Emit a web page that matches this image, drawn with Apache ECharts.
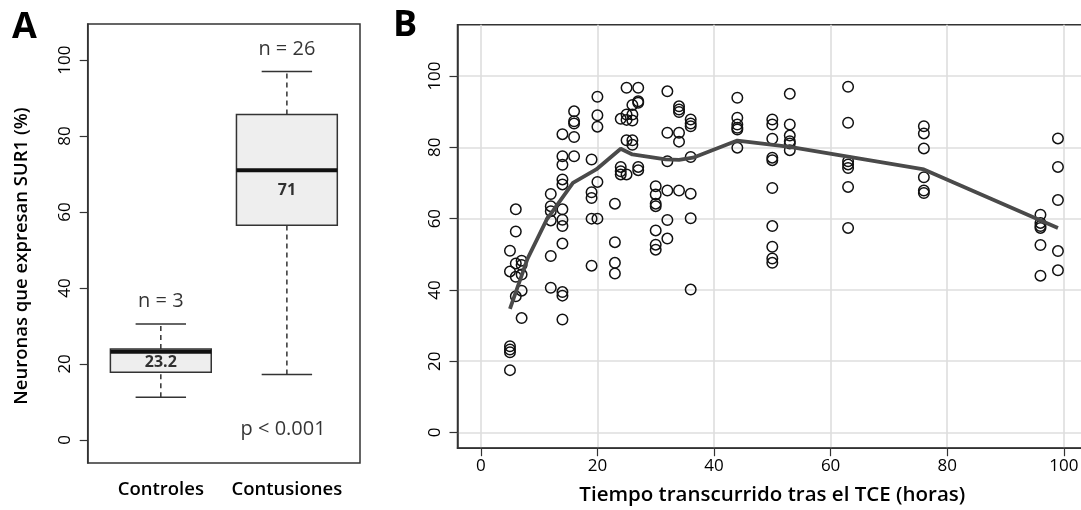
<!DOCTYPE html>
<html lang="es">
<head>
<meta charset="UTF-8" />
<title>SUR1</title>
<script src="https://cdn.jsdelivr.net/npm/echarts@6/dist/echarts.min.js"></script>
<style>
  html, body { margin: 0; padding: 0; background: #fff; }
  #main { width: 1081px; height: 510px; }
</style>
</head>
<body>
<div id="main"></div>
<script type="text/javascript">

// ---- panel A: boxplots ----
var groupNames = ['Controles', 'Contusiones'];
var groupPos = [1, 2];
var whiskerLow = [11.2, 17.2];
var q1 = [17.8, 56.5];
var median = [23.2, 71];
var q3 = [23.9, 85.7];
var whiskerHigh = [30.5, 97.0];
var medianText = ['23.2', '71'];
var medianTextY = [20.4, 65.6];
var nText = ['n = 3', 'n = 26'];
var nTextY = [36.4, 102.8];

// ---- panel B: scatter by hour ----
var hours = [5, 6, 7, 12, 14, 16, 19, 20, 23, 24, 25, 26, 27, 30, 32, 34, 36, 44, 50, 53, 63, 76, 96, 99];
var pctByHour = [
  [51, 45.2, 24.2, 23.3, 22.5, 17.5],
  [62.6, 56.4, 47.4, 43.7, 38.2],
  [48.2, 47.0, 44.3, 39.8, 32.1],
  [66.9, 63.5, 62.1, 59.5, 49.5, 40.6],
  [83.7, 77.5, 75.1, 71, 69.6, 62.6, 59.7, 57.9, 53, 39.4, 38.4, 31.7],
  [90.1, 87.3, 86.7, 82.9, 77.5],
  [76.6, 67.4, 65.8, 60, 46.8],
  [94.2, 89, 85.8, 70.3, 60],
  [64.2, 53.4, 47.6, 44.6],
  [88, 74.5, 73.3, 72.4],
  [96.7, 89.2, 87.7, 82, 72.4],
  [91.9, 89.2, 87.5, 82, 80.7],
  [96.7, 92.9, 92.5, 74.5, 73.6],
  [69.1, 66.8, 64.2, 63.5, 56.7, 52.7, 51.3],
  [95.7, 84.1, 76.1, 67.9, 59.6, 54.4],
  [91.5, 90.6, 89.9, 84.1, 81.6, 67.9],
  [87.8, 86.7, 85.9, 77.3, 67, 60.1, 40.1],
  [93.9, 88.3, 86.4, 85.5, 85, 79.9],
  [87.8, 86.4, 82.4, 77.1, 76.4, 68.6, 57.9, 52.1, 48.8, 47.6],
  [95, 86.4, 83.3, 81.7, 81.1, 79.2],
  [97, 86.9, 76.1, 75.2, 74.2, 68.9, 57.4],
  [85.9, 83.9, 79.7, 71.6, 67.9, 67.2],
  [61.1, 58.8, 57.9, 57.4, 52.6, 44],
  [82.5, 74.5, 65.2, 50.9, 45.5]
];

// smoothed trend
var trendHours = [5, 8, 11.3, 15.8, 19.8, 24, 26, 31.7, 34, 36.4, 44, 53, 76, 99];
var trendPct = [34.7, 48.7, 59.7, 70, 73.8, 79.6, 78, 76.6, 76.5, 77.1, 81.9, 80.1, 73.8, 57.4];

var ticks = [0, 20, 40, 60, 80, 100];

var boxData = [];
for (var i = 0; i < groupPos.length; i++) {
  boxData.push([groupPos[i], whiskerLow[i], q1[i], median[i], q3[i], whiskerHigh[i]]);
}

var notes = [];
for (var i = 0; i < groupPos.length; i++) {
  notes.push({ value: [groupPos[i], nTextY[i]], name: nText[i],
    label: { fontSize: 20, fontWeight: 'normal' } });
  notes.push({ value: [groupPos[i], medianTextY[i]], name: medianText[i],
    label: { fontSize: 16, fontWeight: 'bold' } });
}
notes.push({ value: [1.97, 2.8], name: 'p < 0.001', label: { fontSize: 20, fontWeight: 'normal' } });

var points = [];
for (var i = 0; i < hours.length; i++) {
  for (var j = 0; j < pctByHour[i].length; j++) {
    points.push([hours[i], pctByHour[i][j]]);
  }
}
var trend = [];
for (var i = 0; i < trendHours.length; i++) trend.push([trendHours[i], trendPct[i]]);

var FONT = '"Open Sans", "DejaVu Sans", sans-serif';
var INK = '#000';

var myChart = echarts.init(document.getElementById('main'), null, { renderer: 'canvas' });

var option = {
  animation: false,
  backgroundColor: '#fff',
  textStyle: { fontFamily: FONT, color: INK },
  grid: [
    { left: 87.7, top: 24, width: 272.3, height: 439, show: true, borderColor: '#333', borderWidth: 1.5,
      backgroundColor: 'transparent', containLabel: false, outerBoundsMode: 'none' },
    { left: 457.5, top: 24.7, width: 629.6, height: 423.5, show: true, borderColor: '#333', borderWidth: 1.5,
      backgroundColor: 'transparent', containLabel: false, outerBoundsMode: 'none' }
  ],
  xAxis: [
    { type: 'value', gridIndex: 0, min: 0.42, max: 2.58,
      axisLine: { show: false, onZero: false }, axisTick: { show: false }, splitLine: { show: false },
      axisLabel: { customValues: groupPos, margin: 17, fontSize: 18.5, fontWeight: 600, color: INK, fontFamily: FONT,
        formatter: function (v) { return groupNames[groupPos.indexOf(v)] || ''; } } },
    { type: 'value', gridIndex: 1, min: -4, max: 104,
      axisLine: { show: true, onZero: false, lineStyle: { color: '#333', width: 1.5 } },
      axisTick: { show: true, customValues: ticks, length: 8, lineStyle: { color: '#333', width: 1.2 } },
      axisLabel: { customValues: ticks, margin: 9, fontSize: 17, color: INK, fontFamily: FONT },
      splitLine: { show: true, lineStyle: { color: '#dedede', width: 1.6 } },
      name: 'Tiempo transcurrido tras el TCE (horas)', nameLocation: 'middle', nameGap: 36,
      nameTextStyle: { fontSize: 20.5, fontWeight: 600, color: INK, fontFamily: FONT } }
  ],
  yAxis: [
    { type: 'value', gridIndex: 0, min: -6.1, max: 109.5,
      axisLine: { show: true, onZero: false, lineStyle: { color: '#333', width: 1.5 } },
      axisTick: { show: true, customValues: ticks, length: 8, lineStyle: { color: '#333', width: 1.2 } },
      axisLabel: { customValues: ticks, rotate: 90, margin: 14, fontSize: 17, color: INK, fontFamily: FONT },
      splitLine: { show: false } },
    { type: 'value', gridIndex: 1, min: -4.4, max: 114.4,
      axisLine: { show: true, onZero: false, lineStyle: { color: '#333', width: 1.5 } },
      axisTick: { show: true, customValues: ticks, length: 8, lineStyle: { color: '#333', width: 1.2 } },
      axisLabel: { customValues: ticks, rotate: 90, margin: 14, fontSize: 17, color: INK, fontFamily: FONT },
      splitLine: { show: true, lineStyle: { color: '#dedede', width: 1.6 } } }
  ],
  graphic: [
    { type: 'text', left: 12, top: 10, style: { text: 'A', font: 'bold 36px ' + FONT, fill: '#000' } },
    { type: 'text', left: 393, top: 8, style: { text: 'B', font: 'bold 36px ' + FONT, fill: '#000' } },
    { type: 'text', x: 22, y: 256, rotation: Math.PI / 2,
      style: { text: 'Neuronas que expresan SUR1 (%)', font: '600 18.5px ' + FONT, fill: INK,
        align: 'center', verticalAlign: 'middle' } }
  ],
  series: [
    {
      type: 'custom', xAxisIndex: 0, yAxisIndex: 0, data: boxData, clip: false, z: 3,
      renderItem: function (params, api) {
        var x = api.value(0);
        var pLo = api.coord([x, api.value(1)]);
        var pQ1 = api.coord([x, api.value(2)]);
        var pMed = api.coord([x, api.value(3)]);
        var pQ3 = api.coord([x, api.value(4)]);
        var pHi = api.coord([x, api.value(5)]);
        var half = api.size([0.8, 0])[0] / 2;
        var cap = half / 2;
        var cx = pMed[0];
        var dash = { stroke: '#333', lineWidth: 1.5, lineDash: [5, 4] };
        var solid = { stroke: '#333', lineWidth: 1.5 };
        return {
          type: 'group',
          children: [
            { type: 'line', shape: { x1: cx, y1: pLo[1], x2: cx, y2: pQ1[1] }, style: dash },
            { type: 'line', shape: { x1: cx, y1: pQ3[1], x2: cx, y2: pHi[1] }, style: dash },
            { type: 'line', shape: { x1: cx - cap, y1: pLo[1], x2: cx + cap, y2: pLo[1] }, style: solid },
            { type: 'line', shape: { x1: cx - cap, y1: pHi[1], x2: cx + cap, y2: pHi[1] }, style: solid },
            { type: 'rect', shape: { x: cx - half, y: pQ3[1], width: half * 2, height: pQ1[1] - pQ3[1] },
              style: { fill: '#eeeeee', stroke: '#333', lineWidth: 1.5 } },
            { type: 'line', shape: { x1: cx - half, y1: pMed[1], x2: cx + half, y2: pMed[1] },
              style: { stroke: '#111', lineWidth: 4 } }
          ]
        };
      }
    },
    {
      type: 'scatter', xAxisIndex: 0, yAxisIndex: 0, data: notes, symbolSize: 0, z: 5, silent: true,
      label: { show: true, position: 'inside', color: INK, fontFamily: FONT,
        formatter: function (p) { return p.name; } }
    },
    {
      type: 'scatter', xAxisIndex: 1, yAxisIndex: 1, data: points, symbol: 'circle', symbolSize: 10.5,
      itemStyle: { color: 'rgba(0,0,0,0)', borderColor: '#111', borderWidth: 1.5, opacity: 1 },
      emphasis: { disabled: true }, silent: true, z: 3
    },
    {
      type: 'line', xAxisIndex: 1, yAxisIndex: 1, data: trend, showSymbol: false, smooth: false,
      lineStyle: { color: '#4a4a4a', width: 3.8 }, silent: true, z: 4
    }
  ]
};

myChart.setOption(option);
</script>
</body>
</html>
